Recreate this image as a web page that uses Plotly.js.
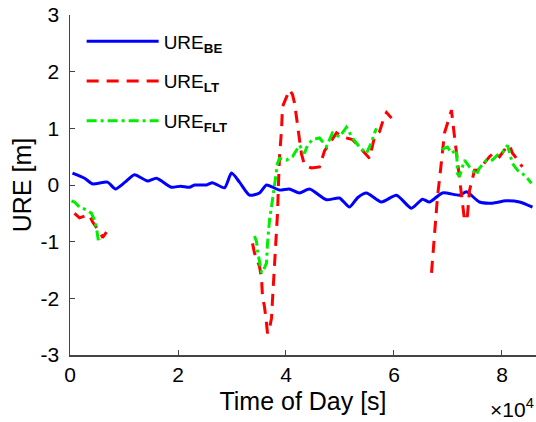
<!DOCTYPE html>
<html>
<head>
<meta charset="utf-8">
<script src="https://cdn.plot.ly/plotly-3.0.1.min.js"></script>
<style>html,body{margin:0;padding:0;background:#fff;}#plot{width:536px;height:422px;}</style>
</head>
<body>
<div id="plot"></div>
<script>
// URE_BE (blue, continuous)
const beTime = [460, 2700, 4170, 6940, 8430, 10200, 11940, 14350, 16020, 18800, 20500, 22130, 23060, 25280, 26390, 28610, 29910, 31390, 33240, 35090, 36390, 38800, 40600, 42500, 44350, 47500, 49900, 51760, 53300, 54900, 57680, 60460, 63240, 65280, 66570, 68980, 72130, 73430, 75830, 78240, 80700, 83240, 85650];
const beVal  = [0.21, 0.12, 0.02, 0.05, -0.07, 0.05, 0.18, 0.07, 0.12, -0.04, -0.02, -0.04, 0.0, 0.0, 0.04, -0.05, 0.21, 0.05, -0.18, -0.14, 0.0, -0.09, -0.07, -0.14, -0.07, -0.26, -0.23, -0.39, -0.22, -0.14, -0.30, -0.18, -0.41, -0.25, -0.30, -0.14, -0.18, -0.12, -0.30, -0.32, -0.28, -0.30, -0.39];

// URE_LT (red, dashed, with gaps)
const ltTime = [833, 1759, 2685, 3611, 4167, 4907, 5834, 6019, 6389, 6760, null,
  33800, 34170, 35100, 35470, 35650, 36020, 36390, 36580, 36950, 37320, 37500, 37870, 38240, 38430, 38610, 38800, 39170, 39350, 40090, 40650, 41200, 41570, 41940, 42130, 42500, 42870, 43430, 44720, 46200, 47130, 48060, 49360, 50470, 52320, 53620, 55100, 55470, 56400, 57320, 58250, 58620, 59540, null,
  66950, 67130, 67500, 67870, 68060, 68430, 68800, 69360, 69910, 70650, 70840, 71210, 71770, 72130, 72500, 72870, 73060, 73430, 73610, 73980, 74540, 74910, 75470, 76400, 77690, 78610, 79540, 80840, 81390, 81950, 82880, 83240, 83800];
const ltVal  = [-0.50, -0.58, -0.55, -0.53, -0.65, -0.75, -0.88, -0.93, -0.88, -0.83, null,
  -1.03, -1.20, -1.44, -1.65, -1.97, -2.15, -2.44, -2.62, -2.53, -2.35, -2.03, -1.44, -0.97, -0.50, 0.03, 0.50, 0.97, 1.38, 1.55, 1.68, 1.60, 1.45, 1.20, 1.02, 0.80, 0.55, 0.35, 0.30, 0.32, 0.60, 0.74, 0.92, 0.85, 0.80, 0.67, 0.50, 0.47, 0.85, 0.94, 1.22, 1.28, 1.18, null,
  -1.55, -1.32, -0.90, -0.55, -0.20, 0.10, 0.44, 0.92, 1.09, 1.32, 1.15, 0.85, 0.50, 0.21, -0.09, -0.40, -0.62, -0.62, -0.53, -0.10, 0.14, 0.26, 0.26, 0.35, 0.50, 0.58, 0.50, 0.67, 0.70, 0.56, 0.45, 0.38, 0.32];

// URE_FLT (green, dash-dot, with gaps)
const fltTime = [278, 833, 1759, 3056, 3982, 4537, 4907, 5093, 5278, 5463, null,
  34170, 34540, 34720, 35100, 35470, 35840, 36390, 36580, 36950, 37500, 37870, 38430, 38800, 40090, 41200, 42500, 43430, 43980, 44910, 46200, 47500, 48610, 49910, 51200, 52320, 53620, 54910, 55840, 56400, 56770, null,
  68980, 69360, 69910, 70650, 71580, 71770, 72130, 73060, 73980, 75280, 75840, 77130, 78240, 79170, 80100, 81020, 81950, 82880, 83800, 84540, 85460];
const fltVal  = [-0.28, -0.30, -0.39, -0.44, -0.50, -0.62, -0.76, -0.94, -1.00, -0.95, null,
  -0.90, -1.00, -1.15, -1.38, -1.55, -1.50, -1.38, -1.03, -0.62, -0.26, -0.03, 0.38, 0.47, 0.44, 0.50, 0.70, 0.56, 0.70, 0.80, 0.83, 0.68, 0.92, 0.85, 1.02, 0.83, 0.67, 0.56, 0.75, 0.92, 1.00, null,
  0.62, 0.65, 0.67, 0.56, 0.62, 0.20, 0.15, 0.44, 0.32, 0.18, 0.30, 0.44, 0.44, 0.53, 0.58, 0.70, 0.38, 0.26, 0.20, 0.14, 0.03];

const seriesNames = ['URE<sub><b>BE</b></sub>', 'URE<sub><b>LT</b></sub>', 'URE<sub><b>FLT</b></sub>'];
const xTickVals = [0, 20000, 40000, 60000, 80000];
const xTickText = ['0', '2', '4', '6', '8'];
const yTickVals = [-3, -2, -1, 0, 1, 2, 3];
const yTickText = ['-3', '-2', '-1', '0', '1', '2', '3'];

const fontFam = 'Liberation Sans, Arial, Helvetica, sans-serif';

const traces = [
  {x: beTime, y: beVal, type: 'scatter', mode: 'lines', name: seriesNames[0], legendgroup: 'a',
   line: {color: '#0000ff', width: 3, shape: 'spline', smoothing: 0.6}},
  {x: ltTime, y: ltVal, type: 'scatter', mode: 'lines', name: seriesNames[1], legendgroup: 'b', connectgaps: false,
   line: {color: '#ff0000', width: 3, dash: '12px,8px'}},
  {x: fltTime, y: fltVal, type: 'scatter', mode: 'lines', name: seriesNames[2], legendgroup: 'c', connectgaps: false,
   line: {color: '#00ee00', width: 3, dash: '10px,4px,3px,4px'}}
];

const layout = {
  width: 536, height: 422,
  margin: {l: 70, r: 0, t: 15, b: 67},
  paper_bgcolor: '#fff', plot_bgcolor: '#fff',
  font: {family: fontFam, color: '#000', size: 18},
  showlegend: true,
  legend: {x: 0.025, y: 0.978, xanchor: 'left', yanchor: 'top', bgcolor: 'rgba(0,0,0,0)',
           font: {size: 19, family: fontFam}, itemwidth: 72, tracegroupgap: 12, traceorder: 'grouped'},
  xaxis: {range: [0, 86300], tickvals: xTickVals, ticktext: xTickText, ticks: 'inside', ticklen: 5,
          tickcolor: '#444', showline: true, linecolor: '#444', linewidth: 1.5, showgrid: false, zeroline: false,
          tickfont: {size: 21}, title: {text: 'Time of Day [s]', font: {size: 25}, standoff: 8}},
  yaxis: {range: [-3, 3], tickvals: yTickVals, ticktext: yTickText, ticks: 'inside', ticklen: 5,
          tickcolor: '#444', showline: true, linecolor: '#444', linewidth: 1.5, showgrid: false, zeroline: false,
          ticklabelstandoff: 5,
          tickfont: {size: 21}, title: {text: 'URE [m]', font: {size: 25}, standoff: 2}},
  annotations: [{xref: 'paper', yref: 'paper', x: 1, y: 0, xanchor: 'right', yanchor: 'top', yshift: -38,
                 text: '×10<sup>4</sup>', showarrow: false, font: {size: 21, family: fontFam}}]
};

Plotly.newPlot('plot', traces, layout, {staticPlot: true, displayModeBar: false});
</script>
</body>
</html>
